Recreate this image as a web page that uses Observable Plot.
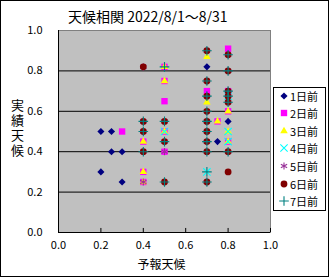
<!DOCTYPE html>
<html>
<head>
<meta charset="utf-8">
<script src="https://cdn.jsdelivr.net/npm/d3@7"></script>
<script src="https://cdn.jsdelivr.net/npm/@observablehq/plot@0.6"></script>
<style>
  body { margin: 0; background: #fff; }
  #wrap { position: relative; width: 329px; height: 277px; background: #fff; font-family: "Noto Sans CJK JP", sans-serif; overflow: hidden; }
  #wrap svg.plot { position: absolute; left: 0; top: 0; }
  #border { position: absolute; left: 0; top: 0; width: 329px; height: 277px; box-sizing: border-box; border: 1px solid #000; pointer-events: none; }
  #title { position: absolute; left: 68px; top: 7px; font-size: 14px; line-height: 18px; white-space: nowrap; color: #000; }
  #ylab { position: absolute; left: 10px; top: 99px; font-size: 13px; line-height: 14px; writing-mode: vertical-rl; text-orientation: upright; letter-spacing: 2px; color: #000; }
  #xlab { position: absolute; left: 0; width: 323px; text-align: center; top: 256px; font-size: 12px; line-height: 16px; color: #000; }
  #legend { position: absolute; left: 273px; top: 87px; width: 53px; height: 124px; box-sizing: border-box; border: 1px solid #000; background: #fff; }
  #legend .row { position: absolute; left: 0; height: 17px; display: flex; align-items: center; font-size: 11px; white-space: nowrap; }
  #legend svg { display: block; margin-left: 5px; margin-right: 1px; }
</style>
</head>
<body>
<div id="wrap"></div>
<script>
// ---- data ----
const seriesNames = ["1日前", "2日前", "3日前", "4日前", "5日前", "6日前", "7日前"];
const xTicks = [0, 0.2, 0.4, 0.6, 0.8, 1.0];
const yTicks = [0, 0.2, 0.4, 0.6, 0.8, 1.0];
const gridY = [0.2, 0.4, 0.6, 0.8];

const d1 = [[0.2,0.5],[0.25,0.5],[0.25,0.4],[0.3,0.4],[0.2,0.3],[0.3,0.25],[0.7,0.82],[0.75,0.45],[0.8,0.55]];
const d2 = [[0.3,0.5],[0.5,0.82],[0.5,0.75],[0.5,0.65],[0.4,0.45],[0.4,0.3],[0.4,0.25],[0.5,0.5],[0.5,0.4],[0.7,0.7],[0.75,0.55],[0.8,0.91],[0.8,0.7],[0.8,0.6],[0.8,0.45]];
const d3s = [[0.5,0.82],[0.5,0.75],[0.4,0.45],[0.4,0.3],[0.4,0.25],[0.5,0.5],[0.7,0.87],[0.7,0.645],[0.75,0.55],[0.8,0.6],[0.8,0.5],[0.8,0.45]];
const d4 = [[0.5,0.5],[0.7,0.3],[0.8,0.675],[0.8,0.5],[0.8,0.45]];
const d5 = [[0.4,0.82],[0.4,0.55],[0.4,0.5],[0.4,0.4],[0.4,0.25],[0.5,0.55],[0.5,0.45],[0.5,0.4],[0.7,0.9],[0.7,0.75],[0.7,0.675],[0.7,0.6],[0.7,0.55],[0.7,0.5],[0.7,0.45],[0.7,0.4],[0.7,0.25],[0.8,0.88],[0.8,0.8],[0.8,0.7],[0.8,0.675],[0.8,0.645],[0.8,0.4]];
const d6 = [[0.4,0.82],[0.4,0.55],[0.4,0.5],[0.4,0.4],[0.5,0.55],[0.5,0.45],[0.5,0.25],[0.7,0.9],[0.7,0.75],[0.7,0.675],[0.7,0.6],[0.7,0.55],[0.7,0.5],[0.7,0.45],[0.7,0.4],[0.7,0.25],[0.8,0.88],[0.8,0.8],[0.8,0.7],[0.8,0.675],[0.8,0.645],[0.8,0.4],[0.8,0.3]];
const d7 = [[0.5,0.82],[0.4,0.55],[0.4,0.5],[0.4,0.4],[0.5,0.55],[0.5,0.45],[0.5,0.25],[0.7,0.9],[0.7,0.75],[0.7,0.675],[0.7,0.6],[0.7,0.55],[0.7,0.5],[0.7,0.45],[0.7,0.4],[0.7,0.3],[0.7,0.25],[0.8,0.88],[0.8,0.8],[0.8,0.7],[0.8,0.675],[0.8,0.645],[0.8,0.4]];

const seriesData = [d1, d2, d3s, d4, d5, d6, d7];
const styles = [
  {symbol: "diamond2", fill: "#000080", stroke: "none", r: 3.2, sym: d3.symbolDiamond2},
  {symbol: "square", fill: "#ff00ff", stroke: "none", r: 3.6, sym: d3.symbolSquare},
  {symbol: "triangle", fill: "#ffff00", stroke: "none", r: 2.8, sym: d3.symbolTriangle},
  {symbol: "times", fill: "none", stroke: "#00ffff", r: 3.4, sym: d3.symbolTimes},
  {symbol: "asterisk", fill: "none", stroke: "#993399", r: 3.4, sym: d3.symbolAsterisk},
  {symbol: "circle", fill: "#800000", stroke: "none", r: 3.4, sym: d3.symbolCircle},
  {symbol: "plus", fill: "none", stroke: "#008080", r: 3.2, sym: d3.symbolPlus}
];

const wrap = document.getElementById("wrap");

const dotMarks = seriesData.map((data, i) => Plot.dot(data, {
  x: d => d[0], y: d => d[1],
  symbol: styles[i].symbol, fill: styles[i].fill, stroke: styles[i].stroke,
  strokeWidth: 1.1, r: styles[i].r
}));

const chart = Plot.plot({
  width: 329, height: 277,
  marginLeft: 58, marginRight: 59, marginTop: 30, marginBottom: 45,
  x: {domain: [0, 1]},
  y: {domain: [0, 1]},
  style: {fontFamily: "'Noto Sans CJK JP', sans-serif", fontSize: "11px", background: "transparent", color: "#000"},
  marks: [
    Plot.frame({fill: "#c0c0c0", stroke: "#808080"}),
    Plot.ruleY(gridY, {stroke: "#000", strokeWidth: 1}),
    Plot.ruleX(xTicks, {y1: 0, y2: 0.02, stroke: "#000"}),
    Plot.ruleX([0], {stroke: "#000"}),
    Plot.ruleY([0], {stroke: "#000"}),
    Plot.axisX({ticks: xTicks, tickFormat: d3.format(".1f"), tickSize: 0, tickPadding: 9, fontSize: 11, label: null}),
    Plot.axisY({ticks: yTicks, tickFormat: d3.format(".1f"), tickSize: 0, tickPadding: 16, fontSize: 11, label: null}),
    ...dotMarks
  ]
});
chart.classList.add("plot");
wrap.appendChild(chart);

const title = document.createElement("div");
title.id = "title";
title.textContent = "天候相関 2022/8/1～8/31";
wrap.appendChild(title);

const ylab = document.createElement("div");
ylab.id = "ylab";
ylab.textContent = "実績天候";
wrap.appendChild(ylab);

const xlab = document.createElement("div");
xlab.id = "xlab";
xlab.textContent = "予報天候";
wrap.appendChild(xlab);

const legend = document.createElement("div");
legend.id = "legend";
seriesNames.forEach((name, i) => {
  const row = document.createElement("div");
  row.className = "row";
  row.style.top = (i * 17.6 - 1) + "px";
  const s = d3.create("svg").attr("width", 10).attr("height", 10);
  const st = styles[i];
  s.append("path")
    .attr("transform", "translate(5,5)")
    .attr("d", d3.symbol(st.sym, Math.PI * st.r * st.r)())
    .attr("fill", st.fill)
    .attr("stroke", st.stroke)
    .attr("stroke-width", 1.1);
  row.appendChild(s.node());
  const t = document.createElement("span");
  t.textContent = name;
  row.appendChild(t);
  legend.appendChild(row);
});
wrap.appendChild(legend);

const border = document.createElement("div");
border.id = "border";
wrap.appendChild(border);
</script>
</body>
</html>
